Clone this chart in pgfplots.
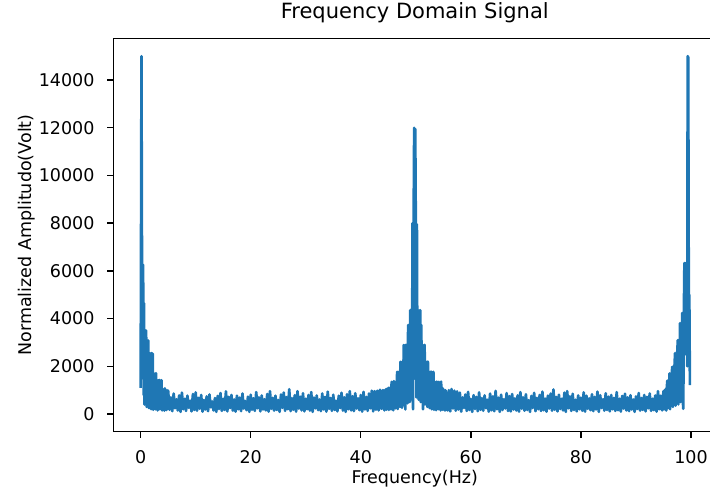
\documentclass[border=0pt]{standalone}
\usepackage{fontspec}
\setmainfont{DejaVu Sans}
\usepackage{pgfplots}
\pgfplotsset{compat=1.18}
\definecolor{C0}{HTML}{1F77B4}

\begin{document}
\begin{tikzpicture}
\begin{axis}[
  scale only axis,
  width=344.6pt,
  height=224.8pt,
  xmin=-4.98, xmax=104.6,
  ymin=-742, ymax=15748,
  xtick={0,20,40,60,80,100},
  ytick={0,2000,4000,6000,8000,10000,12000,14000},
  scaled y ticks=false,
  /pgf/number format/set thousands separator={},
  /pgf/number format/assume math mode=true,
  tick align=outside,
  tick pos=left,
  major tick length=3.5pt,
  every tick/.style={black, line width=0.8pt},
  axis line style={line width=0.8pt},
  tick label style={font=\fontsize{10}{12}\selectfont, inner sep=0pt},
  xticklabel style={anchor=north, yshift=-7pt},
  yticklabel style={anchor=east, xshift=-7pt},
  title={Frequency Domain Signal},
  title style={font=\fontsize{12}{14}\selectfont, at={(axis description cs:0.5,1)}, anchor=base, yshift=5.5pt, inner sep=0pt},
  xlabel={Frequency(Hz)},
  xlabel style={font=\fontsize{10}{12}\selectfont, at={(axis description cs:0.5,0)}, anchor=base, yshift=-29.5pt, inner sep=0pt},
  ylabel={Normalized Amplitudo(Volt)},
  ylabel style={font=\fontsize{10}{12}\selectfont, at={([xshift=-46.6pt]axis description cs:0,0.5)}, anchor=base, inner sep=0pt},
]
  \coordinate (bl) at (rel axis cs:0,0);
  % spectrum magnitude
  \addplot[color=C0, line width=1.5pt, line join=round, mark=none] coordinates {
    (0,1100) (0.05,5300) (0.15,15000) (0.25,6300) (0.35,1500) (0.45,6250) (0.55,800) (0.6,4650)
    (0.7,400) (0.8,3520) (0.9,900) (1,3500) (1.1,300) (1.2,3100) (1.3,700) (1.4,3080)
    (1.5,250) (1.6,2550) (1.7,600) (1.8,2540) (1.9,200) (2,2560) (2.1,500) (2.2,2530)
    (2.3,180) (2.4,1700) (2.5,400) (2.6,1690) (2.7,200) (2.8,1710) (2.9,300) (3,1420)
    (3.1,150) (3.2,1410) (3.3,350) (3.4,1430) (3.5,200) (3.6,1400) (3.7,280) (3.8,1420)
    (3.9,150) (4,1050) (4.1,250) (4.2,1000) (4.3,140) (4.4,1080) (4.5,300) (4.6,950)
    (4.7,170) (4.8,1000) (4.9,220)
    (5,980) (5.25,180) (5.5,700) (5.75,120) (6,860) (6.25,240) (6.5,620) (6.75,150)
    (7,780) (7.25,90) (7.5,900) (7.75,200) (8,640) (8.25,130) (8.5,770) (8.75,260)
    (9,560) (9.25,110) (9.5,840) (9.75,170) (10,910) (10.25,140) (10.5,680) (10.75,220)
    (11,800) (11.25,100) (11.5,590) (11.75,190) (12,740) (12.25,120) (12.5,820) (12.75,280)
    (13,530) (13.25,150) (13.5,670) (13.75,90) (14,760) (14.25,210) (14.5,880) (14.75,130)
    (15,640) (15.25,170) (15.5,950) (15.75,110) (16,720) (16.25,250) (16.5,800) (16.75,140)
    (17,610) (17.25,100) (17.5,770) (17.75,200) (18,690) (18.25,120) (18.5,860) (18.75,230)
    (19,550) (19.25,160) (19.5,730) (19.75,90) (20,810) (20.25,180) (20.5,660) (20.75,130)
    (21,920) (21.25,240) (21.5,700) (21.75,110) (22,780) (22.25,190) (22.5,620) (22.75,150)
    (23,840) (23.25,100) (23.5,960) (23.75,220) (24,680) (24.25,140) (24.5,770) (24.75,170)
    (25,590) (25.25,90) (25.5,820) (25.75,260) (26,900) (26.25,130) (26.5,710) (26.75,200)
    (27,1040) (27.25,120) (27.5,660) (27.75,180) (28,790) (28.25,100) (28.5,960) (28.75,230)
    (29,730) (29.25,150) (29.5,870) (29.75,110) (30,640) (30.25,200) (30.5,800) (30.75,140)
    (31,920) (31.25,90) (31.5,690) (31.75,240) (32,780) (32.25,160) (32.5,610) (32.75,120)
    (33,860) (33.25,190) (33.5,720) (33.75,100) (34,940) (34.25,220) (34.5,670) (34.75,130)
    (35,810) (35.25,170) (35.5,560) (35.75,110) (36,770) (36.25,250) (36.5,890) (36.75,140)
    (37,700) (37.25,90) (37.5,830) (37.75,200) (38,960) (38.25,150) (38.5,750) (38.75,120)
    (39,870) (39.25,230) (39.5,660) (39.75,160) (40,800) (40.25,100) (40.5,930) (40.75,190)
    (41,720) (41.25,130) (41.5,860) (41.75,240) (42,980) (42.25,110) (42.5,960) (42.75,180)
    (43,980) (43.25,150) (43.5,1020) (43.75,220)
    (44,1000) (44.1,220) (44.2,1000) (44.3,150) (44.4,960) (44.5,300) (44.6,1050) (44.7,180)
    (44.8,990) (44.9,260) (45,1100) (45.1,170) (45.2,1050) (45.3,320) (45.4,1120) (45.5,200)
    (45.6,1350) (45.7,280) (45.8,1300) (45.9,160) (46,1380) (46.1,350) (46.2,1340) (46.3,240)
    (46.4,1360) (46.5,400) (46.6,1770) (46.7,210) (46.8,1750) (46.9,450) (47,1780) (47.1,300)
    (47.2,2190) (47.3,500) (47.4,2170) (47.5,260) (47.6,2200) (47.7,600) (47.8,2890) (47.9,350)
    (48,2880) (48.1,190) (48.2,2900) (48.3,700) (48.4,2870) (48.5,450) (48.6,3730) (48.7,800)
    (48.8,3720) (48.9,500) (49,4360) (49.1,900) (49.2,4350) (49.3,600) (49.4,8000) (49.5,200)
    (49.6,8050) (49.7,12000) (49.8,1500) (49.9,11950) (50,8000) (50.1,700) (50.2,7950) (50.3,1000)
    (50.4,4360) (50.5,600) (50.6,4340) (50.7,900) (50.8,4350) (50.9,500) (51,3730) (51.1,700)
    (51.2,2890) (51.3,200) (51.4,2880) (51.5,600) (51.6,2900) (51.7,400) (51.8,2190) (51.9,550)
    (52,2180) (52.1,300) (52.2,2200) (52.3,450) (52.4,1770) (52.5,250) (52.6,1760) (52.7,400)
    (52.8,1780) (52.9,200) (53,1750) (53.1,350) (53.2,1770) (53.3,180) (53.4,1350) (53.5,300)
    (53.6,1330) (53.7,160) (53.8,1360) (53.9,280) (54,1340) (54.1,200) (54.2,1350) (54.3,330)
    (54.4,1320) (54.5,150) (54.6,1360) (54.7,260) (54.8,1100) (54.9,180) (55,1050) (55.1,300)
    (55.2,980) (55.3,150) (55.4,1000) (55.5,220) (55.6,900) (55.75,150)
    (56,1000) (56.25,110) (56.5,1050) (56.75,230) (57,980) (57.25,140) (57.5,950)
    (57.75,190) (58,900) (58.25,100) (58.5,700) (58.75,250) (59,820) (59.25,130) (59.5,930)
    (59.75,170) (60,640) (60.25,90) (60.5,790) (60.75,210) (61,720) (61.25,120) (61.5,910)
    (61.75,180) (62,670) (62.25,140) (62.5,780) (62.75,240) (63,600) (63.25,100) (63.5,860)
    (63.75,160) (64,740) (64.25,120) (64.5,970) (64.75,200) (65,690) (65.25,90) (65.5,810)
    (65.75,170) (66,620) (66.25,230) (66.5,880) (66.75,130) (67,750) (67.25,110) (67.5,840)
    (67.75,190) (68,660) (68.25,150) (68.5,780) (68.75,100) (69,920) (69.25,220) (69.5,700)
    (69.75,140) (70,830) (70.25,170) (70.5,580) (70.75,90) (71,760) (71.25,250) (71.5,890)
    (71.75,120) (72,680) (72.25,200) (72.5,800) (72.75,130) (73,940) (73.25,160) (73.5,650)
    (73.75,100) (74,770) (74.25,230) (74.5,860) (74.75,140) (75,1030) (75.25,180) (75.5,720)
    (75.75,110) (76,810) (76.25,210) (76.5,640) (76.75,150) (77,900) (77.25,90) (77.5,960)
    (77.75,240) (78,740) (78.25,130) (78.5,850) (78.75,170) (79,600) (79.25,110) (79.5,780)
    (79.75,200) (80,690) (80.25,140) (80.5,910) (80.75,100) (81,770) (81.25,220) (81.5,660)
    (81.75,160) (82,830) (82.25,120) (82.5,720) (82.75,190) (83,940) (83.25,90) (83.5,790)
    (83.75,250) (84,620) (84.25,140) (84.5,870) (84.75,170) (85,730) (85.25,110) (85.5,800)
    (85.75,200) (86,680) (86.25,130) (86.5,920) (86.75,160) (87,640) (87.25,100) (87.5,760)
    (87.75,230) (88,850) (88.25,150) (88.5,700) (88.75,120) (89,790) (89.25,190) (89.5,610)
    (89.75,90) (90,740) (90.25,210) (90.5,880) (90.75,140) (91,670) (91.25,170) (91.5,800)
    (91.75,110) (92,720) (92.25,240) (92.5,860) (92.75,130) (93,640) (93.25,160) (93.5,780)
    (93.75,100) (94,960) (94.25,200) (94.5,770) (94.75,150)
    (95,960) (95.1,200) (95.2,1000) (95.3,300) (95.4,1050) (95.5,150) (95.6,1100) (95.7,1400)
    (95.8,250) (95.9,1390) (96,400) (96.1,1700) (96.2,200) (96.3,1690) (96.4,500) (96.5,1710)
    (96.6,1980) (96.7,300) (96.8,1970) (96.9,600) (97,1990) (97.1,2550) (97.2,350) (97.3,2540)
    (97.4,700) (97.5,2560) (97.6,3100) (97.7,400) (97.8,3090) (97.9,800) (98,3810) (98.1,500)
    (98.2,3800) (98.3,900) (98.4,4230) (98.5,600) (98.6,220) (98.7,4220) (98.8,6330) (98.9,2500)
    (99,6320) (99.1,3000) (99.2,6300) (99.3,2000) (99.4,15000) (99.5,14950) (99.6,5000) (99.7,4990)
    (99.8,1215)
  };
\end{axis}
\pgfresetboundingbox
\path ([xshift=-64.7pt,yshift=-33.9pt]bl) rectangle ([xshift=341pt,yshift=246.7pt]bl);
\end{tikzpicture}
\end{document}
